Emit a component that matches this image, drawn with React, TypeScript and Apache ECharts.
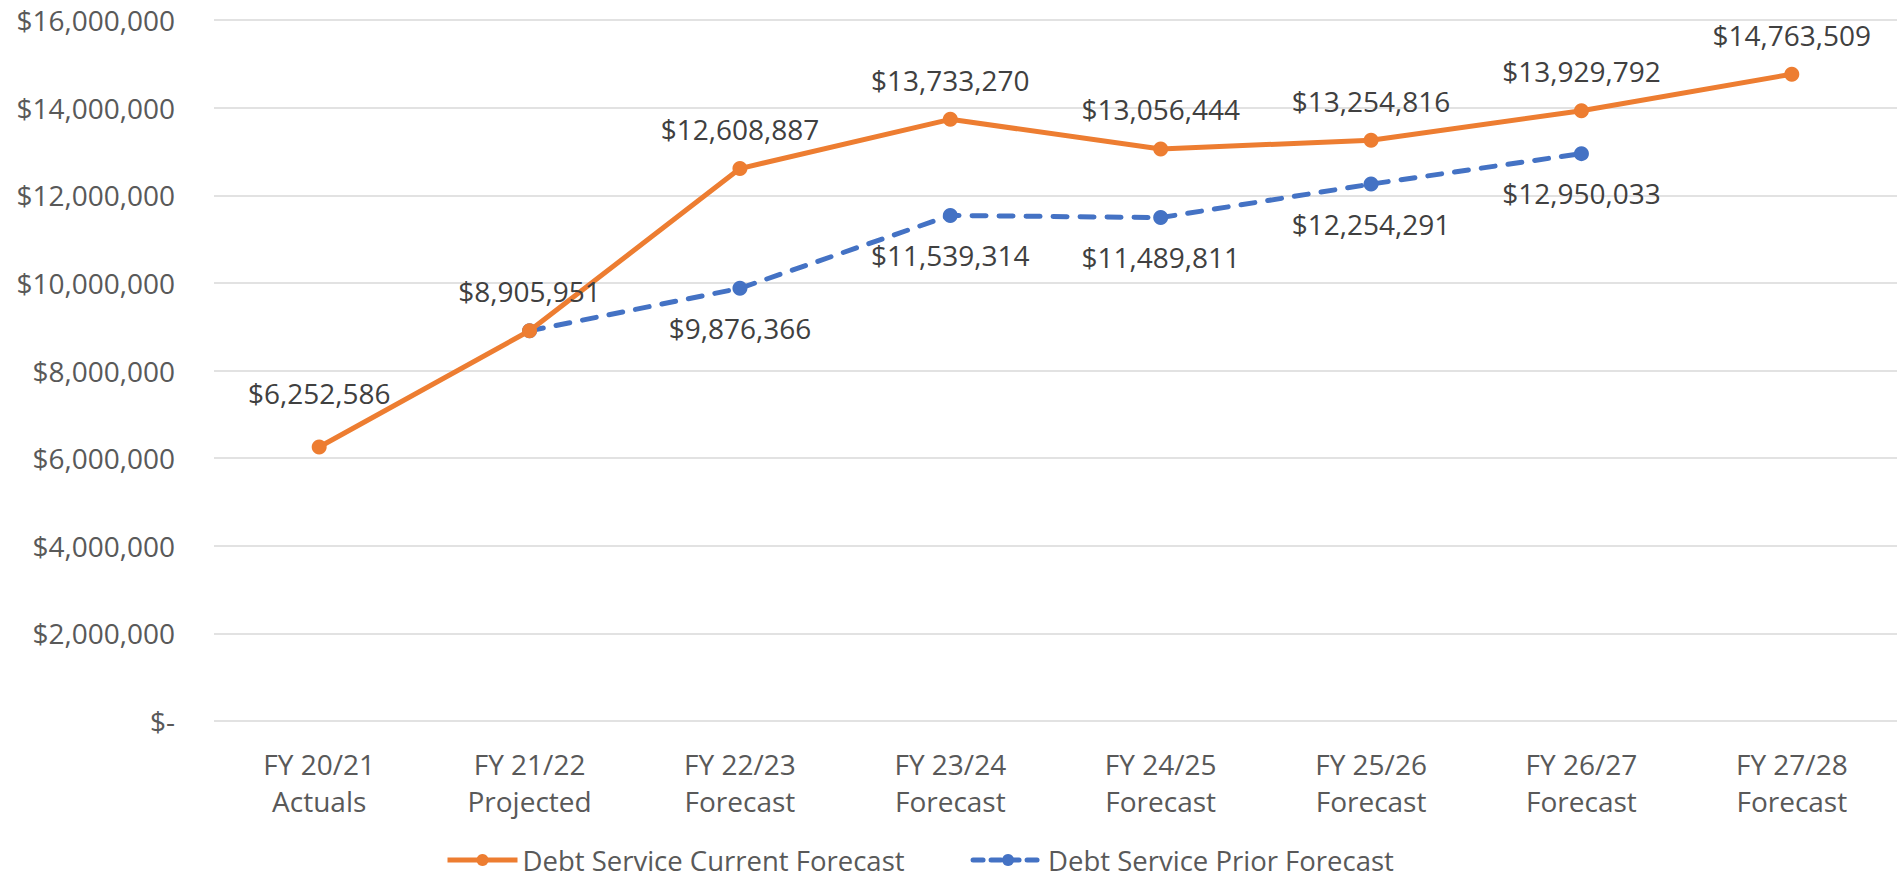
import React, { useEffect, useRef } from "react";
import * as echarts from "echarts";

const categories = [
  "FY 20/21\nActuals",
  "FY 21/22\nProjected",
  "FY 22/23\nForecast",
  "FY 23/24\nForecast",
  "FY 24/25\nForecast",
  "FY 25/26\nForecast",
  "FY 26/27\nForecast",
  "FY 27/28\nForecast",
];

const currentForecast = [
  6252586, 8905951, 12608887, 13733270, 13056444, 13254816, 13929792, 14763509,
];

const priorForecast = [
  null, 8905951, 9876366, 11539314, 11489811, 12254291, 12950033, null,
];

const seriesNames = ["Debt Service Current Forecast", "Debt Service Prior Forecast"];

const FONT = "'Open Sans', sans-serif";
const ORANGE = "#ED7D31";
const BLUE = "#4472C4";

const money = (v: number) => (v === 0 ? "$-" : "$" + v.toLocaleString("en-US"));

export default function App() {
  const ref = useRef<HTMLDivElement>(null);
  useEffect(() => {
    if (!ref.current) return;
    const chart = echarts.init(ref.current, null, { renderer: "svg" });
    chart.setOption({
      animation: false,
      textStyle: { fontFamily: FONT },
      grid: { left: 214, right: 6, top: 20, bottom: 160, containLabel: false },
      legend: {
        left: 440,
        top: 840,
        itemWidth: 70,
        itemHeight: 15,
        itemGap: 66,
        textStyle: { fontSize: 27.5, color: "#595959", fontFamily: FONT, lineHeight: 30 },
        data: [
          {
            name: seriesNames[0],
            lineStyle: { width: 5, color: ORANGE },
            itemStyle: { color: ORANGE },
          },
          {
            name: seriesNames[1],
            lineStyle: { width: 5, color: BLUE, type: [10, 8], cap: "round" },
            itemStyle: { color: BLUE },
          },
        ],
      },
      xAxis: {
        type: "category",
        data: categories,
        boundaryGap: true,
        axisLine: { show: false },
        axisTick: { show: false },
        axisLabel: {
          fontSize: 28,
          lineHeight: 37,
          color: "#595959",
          margin: 24,
          fontFamily: FONT,
        },
      },
      yAxis: {
        type: "value",
        min: 0,
        max: 16000000,
        interval: 2000000,
        axisLine: { show: false },
        axisTick: { show: false },
        splitLine: { lineStyle: { color: "#D9D9D9", width: 1.5 } },
        axisLabel: {
          fontSize: 28,
          color: "#595959",
          margin: 39,
          fontFamily: FONT,
          formatter: (v: number) => money(v),
        },
      },
      series: [
        {
          name: seriesNames[1],
          type: "line",
          data: priorForecast,
          symbol: "circle",
          symbolSize: 15,
          itemStyle: { color: BLUE },
          lineStyle: { color: BLUE, width: 5, type: [14, 13], cap: "round" },
          label: {
            show: true,
            position: "bottom",
            distance: 15,
            fontSize: 28,
            lineHeight: 34,
            color: "#404040",
            fontFamily: FONT,
            formatter: (p: any) => (p.dataIndex === 1 ? "" : money(p.value)),
          },
          z: 2,
        },
        {
          name: seriesNames[0],
          type: "line",
          data: currentForecast.map((v, i) =>
            i === 0 ? { value: v, label: { distance: 30 } } : v
          ),
          symbol: "circle",
          symbolSize: 15,
          itemStyle: { color: ORANGE },
          lineStyle: { color: ORANGE, width: 5 },
          label: {
            show: true,
            position: "top",
            distance: 15,
            fontSize: 28,
            lineHeight: 34,
            color: "#404040",
            fontFamily: FONT,
            formatter: (p: any) => money(p.value),
          },
          z: 3,
        },
      ],
    });
    return () => chart.dispose();
  }, []);
  return (
    <div
      ref={ref}
      style={{ position: "absolute", left: 0, top: 0, width: 1903, height: 881, background: "#fff" }}
    />
  );
}
